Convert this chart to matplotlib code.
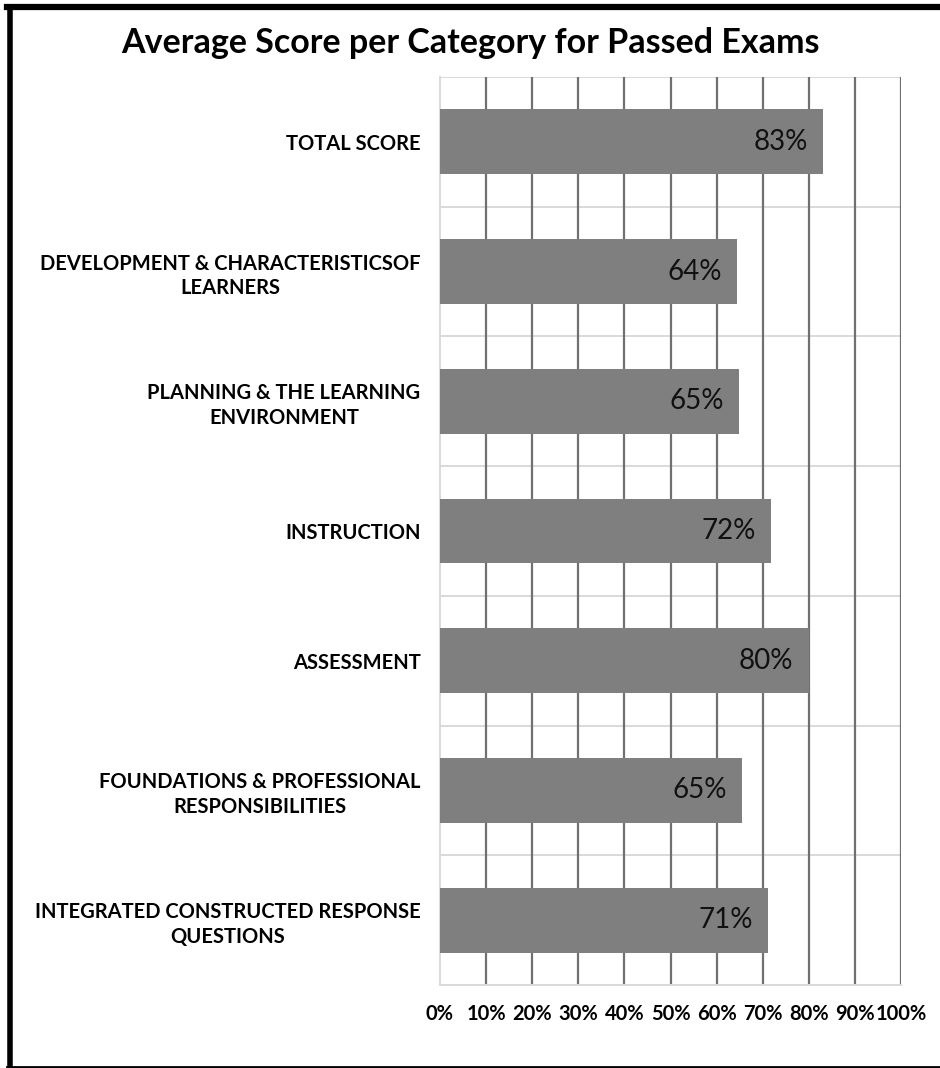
import numpy as np
import matplotlib.pyplot as plt
from matplotlib.lines import Line2D

categories = ["TOTAL SCORE",
              "DEVELOPMENT & CHARACTERISTICSOF\nLEARNERS",
              "PLANNING & THE LEARNING\nENVIRONMENT",
              "INSTRUCTION",
              "ASSESSMENT",
              "FOUNDATIONS & PROFESSIONAL\nRESPONSIBILITIES",
              "INTEGRATED CONSTRUCTED RESPONSE\nQUESTIONS"]
scores = [0.831, 0.644, 0.649, 0.718, 0.80, 0.655, 0.711]
score_labels = ["83%", "64%", "65%", "72%", "80%", "65%", "71%"]
ticks = np.arange(0, 1.01, 0.1)
tick_labels = ["0%", "10%", "20%", "30%", "40%", "50%", "60%", "70%", "80%", "90%", "100%"]

plt.rcParams['font.family'] = ['Lato', 'DejaVu Sans']

fig = plt.figure(figsize=(9.4, 10.68), dpi=100)
ax = fig.add_axes([440/940, 1 - 985/1068, 461/940, 908/1068])

y = np.arange(len(categories))
ax.barh(y, scores, height=0.5, color="#7f7f7f", zorder=3)
for yi, v, lab in zip(y, scores, score_labels):
    ax.text(v - 0.033, yi, lab, ha="right", va="center", fontsize=20, color="#111111", zorder=4)

ax.set_xlim(0, 1)
ax.set_ylim(len(categories) - 0.5, -0.5)

# grid: dark vertical lines, light horizontal separators
for t in ticks[1:]:
    ax.axvline(t, color="#707070", lw=1.6, zorder=1)
for b in np.arange(-0.5, len(categories), 1.0):
    ax.axhline(b, color="#d9d9d9", lw=1.4, zorder=0)

ax.set_yticks(y)
ax.set_yticklabels(categories, fontsize=14.5, fontweight="bold", multialignment="center",
                   linespacing=1.3)
ax.set_xticks(ticks)
ax.set_xticklabels(tick_labels, fontsize=14.5, fontweight="bold")
ax.tick_params(axis="both", length=0)
ax.tick_params(axis="y", pad=14)
ax.tick_params(axis="x", pad=14)
for s in ["top", "right"]:
    ax.spines[s].set_visible(False)
ax.spines["left"].set_color("#d9d9d9")
ax.spines["bottom"].set_color("#d9d9d9")
ax.spines["left"].set_linewidth(1.4)
ax.spines["bottom"].set_linewidth(1.4)

fig.text(470/940, 1 - 43/1068, "Average Score per Category for Passed Exams",
         ha="center", va="center", fontsize=24.5, fontweight="bold")

# outer black frame (left, top, bottom)
fig.add_artist(Line2D([9.5/940, 9.5/940], [0, 1 - 7/1068], color="black", lw=4, transform=fig.transFigure))
fig.add_artist(Line2D([7.5/940, 1], [1 - 7/1068, 1 - 7/1068], color="black", lw=4.5, transform=fig.transFigure))
fig.add_artist(Line2D([7.5/940, 1], [1.2/1068, 1.2/1068], color="black", lw=2, transform=fig.transFigure))

fig.savefig("out.png", dpi=100)
